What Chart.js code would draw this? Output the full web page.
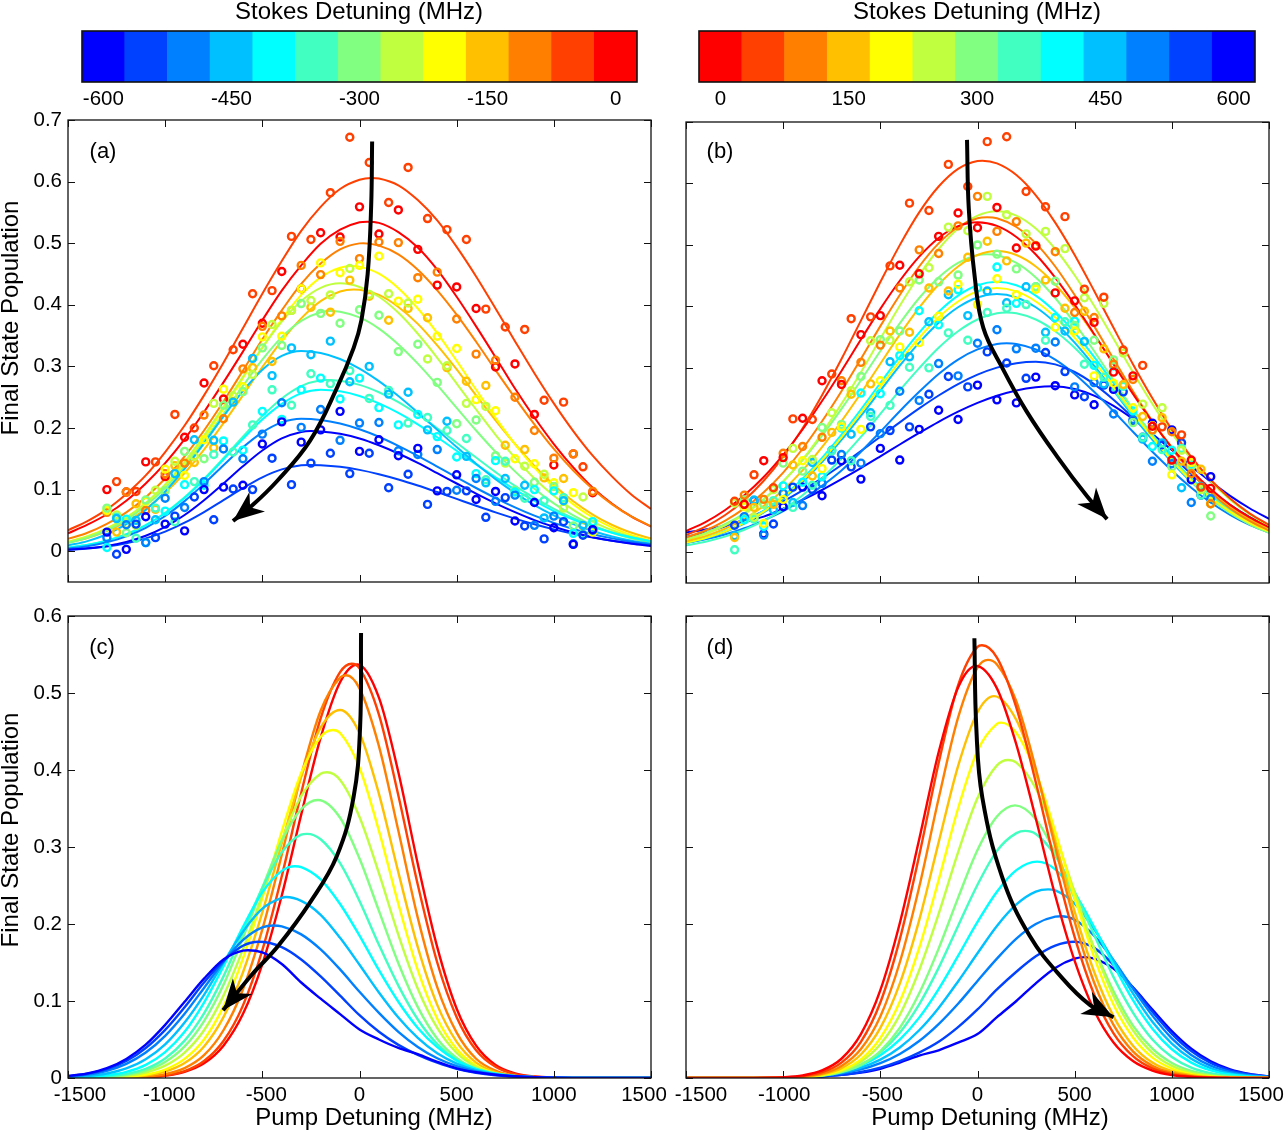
<!DOCTYPE html>
<html><head><meta charset="utf-8"><title>Final state population vs pump detuning</title>
<script src="https://cdn.jsdelivr.net/npm/chart.js@4.4.1/dist/chart.umd.min.js"></script>
<style>html,body{margin:0;padding:0;background:#fff}#fig{position:relative;width:1284px;height:1134px;overflow:hidden;background:#fff}#fig canvas{position:absolute}</style>
</head><body><div id="fig"></div>
<script>
// ---------------- DATA ----------------
const pumpGrid = [-1500,-1400,-1300,-1200,-1100,-1000,-900,-800,-700,-600,-500,-400,-300,-200,-100,0,100,200,300,400,500,600,700,800,900,1000,1100,1200,1300,1400,1500];
const stokesNeg = [-600,-550,-500,-450,-400,-350,-300,-250,-200,-150,-100,-50,0];
const stokesPos = [0,50,100,150,200,250,300,350,400,450,500,550,600];
const colorbarTicksNeg = [-600,-450,-300,-150,0];
const colorbarTicksPos = [0,150,300,450,600];
const pumpTicks = [-1500,-1000,-500,0,500,1000,1500];
const popTicksTop = [0,0.1,0.2,0.3,0.4,0.5,0.6,0.7];
const popTicksBottom = [0,0.1,0.2,0.3,0.4,0.5,0.6];

// measured pump detunings of the data points
const measGridA = [-1300,-1200,-1100,-1000,-900,-800,-700,-600,-500,-400,-300,-200,-100,0,100,200,300,400,500,600,700,800,900,1000,1100,1200];
const measGridB = [-1250,-1150,-1050,-950,-850,-750,-650,-550,-450,-350,-250,-150,-50,50,150,250,350,450,550,650,750,850,950,1050,1150];
const measGridC = [-1200,-1100,-1000,-900,-800,-700,-600,-500,-400,-300,-200,-100,0,100,200,300,400,500,600,700,800,900,1000,1100,1200];

// (a) measured populations, Stokes -600 ... 0
const ptsA_m600 = [.031,.003,.056,.044,.033,.100,.104,.107,.174,.210,.177,.197,.227,.162,.181,.155,.167,.098,.124,.084,.097,.049,.079,.038,.011,.035];
const ptsA_m550 = [-.005,.044,.022,.057,.088,.051,.101,.100,.151,.108,.143,.159,.126,.159,.103,.125,.076,.097,.098,.055,.087,.041,.020,.048,.026];
const ptsA_m500 = [.022,.043,.014,.086,.071,.113,.166,.150,.190,.241,.201,.230,.180,.208,.209,.163,.157,.165,.099,.118,.081,.091,.042,.057,.012,.034];
const ptsA_m450 = [.053,.050,.051,.126,.181,.180,.242,.313,.285,.330,.319,.341,.275,.300,.255,.258,.197,.211,.154,.111,.118,.107,.054,.082,.042];
const ptsA_m400 = [.006,.052,.014,.065,.108,.107,.179,.164,.227,.214,.262,.281,.247,.281,.233,.205,.222,.186,.153,.126,.147,.096,.100,.098,.029,.048];
const ptsA_m350 = [.055,.021,.070,.048,.113,.157,.161,.205,.262,.237,.288,.272,.293,.248,.261,.208,.217,.196,.183,.116,.146,.086,.082,.087,.028];
const ptsA_m300 = [.070,.030,.083,.098,.162,.150,.237,.259,.330,.334,.402,.386,.370,.392,.383,.324,.336,.274,.207,.213,.155,.099,.112,.105,.041,.044];
const ptsA_m250 = [.059,.042,.099,.146,.154,.240,.252,.287,.368,.391,.407,.416,.459,.417,.418,.403,.312,.301,.240,.235,.143,.138,.125,.070,.088];
const ptsA_m200 = [.066,.044,.081,.133,.123,.181,.263,.267,.348,.349,.426,.468,.452,.464,.479,.406,.409,.349,.329,.246,.228,.150,.142,.111,.095,.031];
const ptsA_m150 = [.031,.077,.068,.139,.144,.168,.243,.298,.308,.391,.396,.388,.440,.414,.375,.394,.379,.298,.276,.269,.172,.165,.119,.118,.041];
const ptsA_m100 = [.063,.096,.066,.126,.143,.221,.215,.296,.365,.382,.464,.449,.503,.475,.502,.501,.444,.453,.377,.320,.310,.250,.196,.151,.158,.097];
const ptsA_m50 = [.113,.097,.145,.222,.200,.301,.327,.418,.423,.511,.506,.582,.672,.631,.566,.623,.540,.522,.506,.393,.364,.360,.245,.242,.137];
const ptsA_0 = [.100,.096,.145,.121,.185,.273,.247,.336,.370,.454,.426,.517,.510,.559,.515,.554,.490,.432,.429,.394,.299,.304,.222,.140,.158,.095];

// (b) measured populations, Stokes 0 ... 600
const ptsB_0 = [.078,.149,.154,.218,.279,.273,.354,.385,.467,.453,.514,.552,.528,.561,.495,.498,.422,.409,.374,.293,.287,.205,.150,.150,.104];
const ptsB_50 = [.083,.126,.105,.217,.216,.290,.380,.383,.466,.568,.556,.631,.595,.668,.676,.587,.562,.546,.428,.415,.329,.304,.204,.191,.106];
const ptsB_100 = [.093,.086,.161,.172,.187,.279,.309,.337,.430,.492,.486,.531,.579,.522,.538,.499,.489,.390,.382,.306,.281,.199,.196,.128,.079];
const ptsB_150 = [.024,.073,.078,.142,.124,.195,.257,.274,.360,.358,.430,.425,.480,.506,.474,.503,.443,.397,.392,.331,.273,.221,.219,.148,.135];
const ptsB_200 = [.074,.047,.086,.149,.136,.204,.200,.279,.334,.341,.384,.436,.403,.445,.419,.428,.366,.360,.287,.275,.235,.206,.126,.146,.079];
const ptsB_250 = [.080,.057,.102,.169,.151,.227,.263,.344,.345,.440,.463,.529,.523,.579,.549,.518,.522,.494,.414,.405,.324,.241,.235,.166,.102];
const ptsB_300 = [.085,.078,.145,.132,.203,.208,.286,.346,.360,.443,.440,.451,.500,.485,.461,.432,.441,.369,.345,.313,.211,.198,.139,.140,.059];
const ptsB_350 = [.004,.054,.084,.073,.109,.165,.149,.221,.239,.301,.300,.357,.345,.390,.397,.403,.345,.375,.306,.285,.270,.187,.167,.169,.093];
const ptsB_400 = [.053,.042,.108,.114,.123,.202,.259,.258,.320,.393,.370,.427,.430,.464,.405,.432,.382,.376,.304,.303,.230,.172,.166,.142,.079];
const ptsB_450 = [.027,.085,.069,.081,.146,.166,.192,.227,.310,.318,.375,.419,.385,.425,.406,.432,.358,.360,.343,.274,.272,.184,.178,.105,.107];
const ptsB_500 = [.058,.028,.096,.076,.112,.159,.145,.193,.262,.247,.307,.287,.340,.362,.331,.332,.342,.269,.276,.225,.216,.148,.144,.081,.087];
const ptsB_550 = [.044,.084,.046,.106,.102,.150,.139,.204,.198,.204,.257,.286,.269,.326,.308,.283,.325,.294,.253,.272,.261,.187,.175,.178,.093];
const ptsB_600 = [.075,.030,.074,.106,.092,.149,.119,.169,.150,.200,.231,.216,.272,.248,.243,.285,.271,.256,.240,.265,.213,.210,.199,.118,.123];

// (a) fitted curves, Stokes -600 ... 0 (values on pumpGrid)
const fitA_m600 = [.0023,.0046,.0086,.0151,.0251,.0396,.0588,.0828,.1099,.1378,.1634,.183,.1936,.1945,.1906,.183,.172,.1586,.1433,.1267,.1099,.0933,.0776,.0634,.0505,.0396,.0304,.0228,.0168,.0121,.0086];
const fitA_m550 = [.0022,.0042,.0075,.0128,.0208,.0318,.0463,.0636,.083,.1024,.120,.1328,.1394,.1396,.137,.132,.125,.1165,.1067,.096,.0849,.0738,.063,.0529,.0437,.0354,.0282,.0221,.017,.0129,.0096];
const fitA_m500 = [.0044,.0082,.0144,.0241,.038,.0571,.0813,.1093,.1395,.1686,.193,.2092,.215,.2131,.2073,.198,.1858,.171,.1548,.1374,.1197,.1026,.0863,.0712,.0577,.046,.036,.0276,.0208,.0154,.0112];
const fitA_m450 = [.0093,.0164,.0275,.0439,.067,.0969,.1336,.175,.219,.260,.2945,.317,.325,.3217,.312,.2964,.276,.252,.225,.197,.169,.142,.117,.0946,.0748,.058,.0439,.0328,.0239,.017,.0119];
const fitA_m400 = [.0057,.01,.017,.0272,.0419,.0616,.0865,.1158,.1488,.1824,.2138,.2392,.2562,.262,.2595,.252,.240,.2245,.206,.185,.163,.141,.120,.0998,.0815,.0652,.0513,.0396,.030,.0222,.0162];
const fitA_m350 = [.006,.0104,.0174,.0278,.0425,.0624,.0874,.1175,.151,.186,.2195,.248,.268,.2775,.2766,.270,.258,.242,.222,.1996,.176,.152,.1284,.106,.0865,.0688,.0536,.041,.0306,.0225,.0161];
const fitA_m300 = [.0134,.0216,.0338,.0508,.0737,.1024,.1377,.1786,.2227,.2683,.311,.3475,.374,.388,.3888,.3795,.3614,.3357,.3046,.2695,.2327,.196,.1613,.1296,.1014,.0776,.058,.042,.030,.0207,.014];
const fitA_m250 = [.0151,.024,.0368,.0546,.0783,.1085,.1453,.188,.2346,.283,.3306,.3728,.4063,.4276,.435,.429,.413,.387,.353,.314,.272,.230,.189,.152,.118,.090,.067,.048,.034,.0233,.0157];
const fitA_m200 = [.0155,.0243,.0369,.054,.077,.1065,.142,.184,.231,.281,.3305,.3764,.416,.4445,.4604,.462,.4505,.427,.394,.354,.309,.262,.2167,.1737,.1357,.1033,.076,.0547,.0382,.026,.017];
const fitA_m150 = [.0136,.0213,.0325,.048,.0686,.095,.127,.165,.208,.253,.299,.3416,.378,.406,.4217,.4245,.416,.3965,.369,.334,.295,.253,.2125,.174,.1385,.1075,.081,.0595,.0425,.030,.0204];
const fitA_m100 = [.020,.030,.0445,.063,.0875,.118,.154,.196,.243,.293,.344,.391,.434,.467,.490,.4997,.496,.482,.457,.4235,.384,.340,.294,.249,.206,.166,.131,.101,.076,.056,.0405];
const fitA_m50 = [.034,.049,.068,.093,.123,.161,.204,.253,.306,.362,.418,.471,.520,.559,.588,.603,.605,.594,.570,.537,.494,.446,.394,.341,.289,.240,.195,.155,.121,.0916,.0685];
const fitA_0 = [.029,.043,.060,.082,.110,.143,.182,.226,.274,.324,.375,.423,.464,.499,.522,.534,.533,.518,.493,.457,.413,.365,.315,.264,.217,.174,.136,.103,.077,.056,.040];
const peakA_x = [-250,-260,-300,-300,-200,-170,-150,-100,-40,-30,20,60,40];
const peakA_y = [.195,.14,.215,.325,.262,.278,.39,.435,.463,.425,.50,.606,.535];

// (b) fitted curves, Stokes 0 ... 600
const fitB_0 = [.0345,.049,.0683,.0926,.1224,.1584,.1997,.246,.295,.346,.396,.4417,.481,.5114,.5305,.537,.531,.513,.4845,.4468,.4028,.3552,.306,.2576,.2119,.1704,.1337,.1028,.0771,.0567,.0405];
const fitB_50 = [.028,.0416,.0602,.0847,.1163,.1552,.2017,.2555,.3143,.3769,.4396,.4997,.553,.595,.6237,.6365,.6326,.6137,.5808,.5363,.4837,.4255,.3652,.306,.2505,.1996,.1552,.118,.0874,.0634,.0447];
const fitB_100 = [.024,.0354,.0512,.0714,.0976,.1297,.1684,.2131,.2621,.3145,.3679,.4186,.4649,.5025,.5292,.5434,.5434,.5292,.5025,.4649,.4186,.3679,.3145,.2621,.2131,.1684,.1297,.0976,.0714,.0512,.0354];
const fitB_150 = [.0176,.0263,.0382,.0544,.0755,.1014,.1333,.171,.2132,.2587,.3067,.354,.3979,.4356,.465,.4836,.49,.4836,.465,.4356,.3979,.354,.3067,.2587,.2132,.171,.1333,.1014,.0755,.0544,.0382];
const fitB_200 = [.0155,.023,.0335,.0477,.0662,.089,.117,.150,.187,.227,.269,.3107,.349,.3823,.408,.4244,.43,.4244,.408,.3823,.349,.3107,.269,.227,.187,.150,.117,.089,.0662,.0477,.0335];
const fitB_250 = [.020,.0297,.0433,.0616,.0855,.1149,.151,.1937,.2414,.293,.3474,.401,.4507,.4934,.5267,.5478,.555,.5478,.5267,.4934,.4507,.401,.3474,.293,.2414,.1937,.151,.1149,.0855,.0616,.0433];
const fitB_300 = [.0213,.0315,.0456,.0635,.0868,.1154,.1499,.1896,.2333,.2798,.3274,.3725,.4137,.4472,.4709,.4835,.4835,.4709,.4472,.4137,.3725,.3274,.2798,.2333,.1896,.1499,.1154,.0868,.0635,.0456,.0315];
const fitB_350 = [.0113,.0172,.0254,.0367,.0511,.0698,.0928,.1205,.1525,.1876,.225,.2633,.2995,.3327,.3596,.3787,.3888,.3888,.3787,.3596,.3327,.2995,.2633,.225,.1876,.1525,.1205,.0928,.0698,.0511,.0367];
const fitB_400 = [.0158,.0236,.0343,.0488,.0678,.0911,.1197,.1536,.1914,.2323,.2754,.3179,.3573,.3912,.4176,.4343,.44,.4343,.4176,.3912,.3573,.3179,.2754,.2323,.1914,.1536,.1197,.0911,.0678,.0488,.0343];
const fitB_450 = [.0151,.0225,.0328,.0466,.0647,.0869,.1142,.1466,.1827,.2218,.2629,.3035,.341,.3734,.3986,.4145,.42,.4145,.3986,.3734,.341,.3035,.2629,.2218,.1827,.1466,.1142,.0869,.0647,.0466,.0328];
const fitB_500 = [.015,.021,.029,.039,.052,.067,.086,.108,.133,.1635,.196,.2295,.261,.29,.3135,.330,.339,.339,.330,.3135,.29,.261,.2295,.196,.1635,.133,.105,.0809,.0609,.0445,.032];
const fitB_550 = [.0247,.0324,.0419,.0534,.067,.0828,.1008,.1205,.142,.1646,.188,.2114,.234,.255,.2736,.289,.3004,.3076,.31,.3057,.2933,.2736,.2483,.2191,.188,.1569,.1274,.1008,.0772,.0576,.0419];
const fitB_600 = [.032,.037,.043,.050,.058,.0709,.0853,.1013,.1188,.137,.156,.1753,.1941,.2122,.2287,.243,.2547,.2633,.2685,.27,.2657,.2549,.2381,.2168,.1925,.1663,.140,.115,.0918,.0716,.0543];
const peakB_x = [0,25,50,100,100,100,50,150,100,100,150,300,390];
const peakB_y = [.537,.637,.545,.49,.43,.555,.485,.39,.44,.42,.34,.31,.27];

// (c) simulated curves, Stokes -600 ... 0
const simC_m600 = [.0027,.0061,.0128,.0248,.0433,.069,.099,.129,.154,.1655,.163,.148,.124,.103,.083,.063,.050,.039,.031,.021,.0126,.0075,.0042,.0022,.001,.0004,.0001,0,0,0,0];
const simC_m550 = [.0024,.0055,.0115,.0221,.039,.0626,.092,.124,.152,.1717,.1765,.170,.154,.132,.107,.0815,.060,.043,.030,.020,.012,.0068,.0036,.0018,.0008,.0003,.0001,0,0,0,0];
const simC_m500 = [.0019,.0044,.0093,.0183,.033,.0547,.0834,.117,.151,.179,.1955,.197,.1865,.167,.141,.112,.0846,.060,.0404,.0256,.0154,.0087,.0047,.0023,.0011,.0005,.0002,.0001,0,0,0];
const simC_m450 = [.001,.0025,.0058,.0124,.0243,.0437,.072,.108,.150,.190,.220,.234,.230,.212,.182,.147,.111,.0785,.052,.032,.0187,.0101,.0051,.0024,.0011,.0005,.0002,.0001,0,0,0];
const simC_m400 = [.0005,.0013,.0034,.0079,.0171,.0337,.060,.098,.145,.196,.241,.269,.274,.258,.226,.185,.140,.099,.065,.040,.0226,.0119,.0059,.0027,.0012,.0005,.0002,.0001,0,0,0];
const simC_m350 = [.0003,.0008,.0021,.0053,.012,.0254,.0485,.084,.132,.189,.247,.293,.316,.310,.279,.230,.173,.120,.076,.044,.0233,.0113,.005,.0021,.0008,.0003,.0001,0,0,0,0];
const simC_m300 = [0,.0005,.0016,.004,.0096,.0208,.041,.074,.121,.182,.247,.308,.349,.360,.338,.285,.217,.149,.092,.051,.026,.0117,.0048,.0018,.0006,.0002,0,0,0,0,0];
const simC_m250 = [0,.0003,.001,.0029,.0071,.016,.033,.062,.107,.167,.238,.309,.366,.395,.387,.339,.266,.186,.116,.065,.0325,.0145,.0058,.0021,.0007,.0002,0,0,0,0,0];
const simC_m200 = [0,0,.0005,.0016,.0045,.011,.0248,.050,.093,.155,.234,.320,.396,.443,.448,.403,.321,.226,.140,.077,.0375,.0162,.0061,.0021,.0006,.0002,0,0,0,0,0];
const simC_m150 = [0,0,.0003,.0011,.0032,.0083,.0194,.041,.079,.137,.215,.305,.391,.455,.478,.448,.369,.267,.170,.095,.047,.020,.0077,.0025,.0008,.0002,0,0,0,0,0];
const simC_m100 = [0,0,0,.0005,.0017,.005,.0128,.0296,.062,.115,.193,.290,.393,.477,.520,.506,.431,.321,.208,.118,.059,.025,.0096,.003,.001,0,0,0,0,0,0];
const simC_m50 = [0,0,0,.0003,.001,.0032,.0088,.022,.048,.094,.166,.262,.370,.467,.527,.532,.472,.367,.251,.150,.079,.036,.0145,.005,.0016,.0004,0,0,0,0,0];
const simC_0 = [0,0,0,.0002,.0009,.003,.008,.019,.042,.083,.148,.237,.342,.442,.514,.536,.494,.397,.278,.170,.090,.042,.017,.006,.002,.0005,0,0,0,0,0];
const peakC_x = [-574,-517,-445,-378,-332,-270,-214,-167,-136,-100,-69,-40,-10];
const peakC_y = [.166,.177,.198,.235,.275,.317,.361,.397,.452,.478,.523,.538,.537];

// (d) simulated curves, Stokes 0 ... 600
const simD_0 = [0,0,0,0,.0003,.001,.0034,.0098,.025,.057,.114,.201,.310,.423,.507,.534,.506,.433,.337,.237,.152,.088,.046,.022,.0096,.0037,.0013,.0004,.0001,0,0];
const simD_50 = [0,0,0,0,.0002,.0007,.0025,.0075,.020,.047,.098,.180,.289,.409,.510,.560,.546,.481,.384,.278,.183,.1085,.058,.0284,.0125,.005,.0018,.0006,.0002,0,0];
const simD_100 = [0,0,0,0,.0001,.0005,.0018,.0057,.0157,.0377,.080,.150,.248,.363,.468,.533,.537,.489,.402,.300,.203,.124,.069,.0346,.0158,.0065,.0024,.0008,.0002,0,0];
const simD_150 = [0,0,0,0,.0001,.0004,.0015,.0047,.0127,.0305,.065,.1225,.205,.306,.405,.475,.4955,.465,.397,.3075,.216,.138,.080,.042,.020,.0088,.0035,.0012,.0004,.0001,0];
const simD_200 = [0,0,0,0,.0001,.0004,.0013,.0038,.0101,.0242,.052,.099,.169,.257,.350,.425,.460,.448,.397,.320,.2345,.157,.095,.0527,.0265,.0122,.0051,.0019,.0007,.0002,0];
const simD_250 = [0,0,0,0,.0001,.0004,.0012,.0035,.009,.021,.0437,.082,.140,.213,.293,.3635,.406,.4095,.376,.315,.241,.168,.1066,.062,.0327,.0157,.0069,.0028,.001,.0003,.0001];
const simD_300 = [0,0,0,0,.0001,.0004,.0011,.003,.0076,.017,.035,.065,.110,.168,.234,.296,.3395,.354,.336,.292,.2325,.169,.1127,.068,.038,.0195,.0091,.0039,.0015,.0005,.0002];
const simD_350 = [0,0,0,.0001,.0002,.0006,.0015,.0037,.0084,.0174,.0333,.0588,.0957,.143,.1975,.251,.295,.318,.317,.289,.242,.186,.131,.0849,.050,.0273,.0135,.0062,.0026,.001,.0004];
const simD_400 = [0,0,0,.0001,.0003,.0008,.0018,.004,.0084,.0162,.0295,.0498,.0784,.1155,.1585,.2027,.242,.270,.281,.271,.240,.196,.147,.101,.064,.0373,.020,.0099,.0045,.0019,.0007];
const simD_450 = [0,0,0,.0001,.0003,.0007,.0016,.0035,.0072,.0135,.0238,.0397,.062,.091,.1254,.162,.1975,.2254,.242,.2436,.2265,.1935,.152,.110,.073,.0446,.025,.0129,.0061,.0027,.0011];
const simD_500 = [0,0,0,.0001,.0003,.0007,.0015,.0031,.0061,.0111,.0192,.0312,.048,.070,.0964,.126,.155,.181,.200,.2095,.2056,.185,.153,.116,.081,.0515,.030,.0161,.0079,.0036,.0015];
const simD_550 = [0,0,0,0,.0001,.0004,.001,.0021,.0042,.0078,.0135,.022,.033,.047,.066,.089,.115,.138,.158,.172,.1769,.169,.147,.1175,.086,.0574,.035,.0195,.010,.0047,.002];
const simD_600 = [0,0,0,0,.0001,.0004,.001,.002,.004,.007,.012,.020,.029,.036,.046,.057,.079,.100,.123,.143,.155,.155,.142,.1176,.0889,.061,.038,.0216,.0112,.0053,.0022];
const peakD_x = [-8,23,54,85,121,157,193,245,307,363,430,497,553];
const peakD_y = [.535,.562,.543,.496,.4615,.413,.354,.321,.281,.245,.210,.177,.157];

// trend arrows (pump detuning, population)
const arrowA_x = [65,60,42,10,-30,-116,-255,-424,-560,-651];
const arrowA_y = [.665,.56,.45,.375,.33,.265,.179,.114,.072,.049];
const arrowB_x = [-54,-45,-15,30,131,255,409,564,667];
const arrowB_y = [.671,.56,.45,.365,.298,.228,.156,.091,.054];
const arrowC_x = [8,3,-31,-117,-249,-420,-551,-702];
const arrowC_y = [.578,.455,.364,.288,.230,.171,.135,.088];
const arrowD_x = [-16,-6,25,127,270,435,578,700];
const arrowD_y = [.571,.454,.364,.261,.184,.130,.095,.079];

// ---------------- STYLE ----------------
const jetNeg = ['#0000ff','#0040ff','#0080ff','#00c0ff','#00ffff','#40ffc0','#80ff80','#c0ff40','#ffff00','#ffc000','#ff8000','#ff4000','#ff0000'];
const jetPos = jetNeg.slice().reverse();
const FONT = "'Liberation Sans', Arial, Helvetica, sans-serif";
Chart.defaults.font.family = FONT;
Chart.defaults.color = '#000';

function curvePts(ys, px, py) {
  const pts = [];
  pumpGrid.forEach((x, i) => { if (Math.abs(x - px) >= 20) pts.push({x: x, y: ys[i]}); });
  pts.push({x: px, y: py});
  pts.sort((a, b) => a.x - b.x);
  return pts;
}
function zipPts(xs, ys) { return ys.map((y, i) => ({x: xs[i], y: y})); }

const framePlugin = {
  id: 'frame',
  beforeDraw(chart, args, o) {
    if (o && o.xshift && chart.scales.x) {
      const items = chart.scales.x.getLabelItems();
      if (items && !items._shifted) {
        items.forEach((it, i) => { if (o.xshift[i]) it.options.translation[0] += o.xshift[i]; });
        items._shifted = true;
      }
    }
  },
  afterDraw(chart, args, o) {
    if (!o) return;
    const ctx = chart.ctx, a = chart.chartArea;
    ctx.save();
    if (o.arrow !== undefined) {
      const pts = chart.getDatasetMeta(o.arrow).data;
      const p1 = pts[pts.length - 2], p2 = pts[pts.length - 1];
      let dx = p2.x - p1.x, dy = p2.y - p1.y; const L = Math.hypot(dx, dy); dx /= L; dy /= L;
      const nx = -dy, ny = dx, HL = 31, HW = 12.5, NOTCH = 9;
      ctx.fillStyle = '#000';
      ctx.beginPath();
      ctx.moveTo(p2.x, p2.y);
      ctx.lineTo(p2.x - HL * dx + HW * nx, p2.y - HL * dy + HW * ny);
      ctx.lineTo(p2.x - (HL - NOTCH) * dx, p2.y - (HL - NOTCH) * dy);
      ctx.lineTo(p2.x - HL * dx - HW * nx, p2.y - HL * dy - HW * ny);
      ctx.closePath(); ctx.fill();
    }
    if (o.box) {
      ctx.strokeStyle = '#111'; ctx.lineWidth = o.box;
      ctx.strokeRect(a.left, a.top, a.right - a.left, a.bottom - a.top);
    }
    if (o.xt) {
      ctx.strokeStyle = '#111'; ctx.lineWidth = 1;
      o.xt.forEach(v => { const x = Math.round(chart.scales.x.getPixelForValue(v)) + 0.5;
        ctx.beginPath(); ctx.moveTo(x, a.bottom); ctx.lineTo(x, a.bottom - 7); ctx.moveTo(x, a.top); ctx.lineTo(x, a.top + 7); ctx.stroke(); });
      o.yt.forEach(v => { const y = Math.round(chart.scales.y.getPixelForValue(v)) + 0.5;
        ctx.beginPath(); ctx.moveTo(a.left, y); ctx.lineTo(a.left + 7, y); ctx.moveTo(a.right, y); ctx.lineTo(a.right - 7, y); ctx.stroke(); });
    }
    if (o.texts) {
      ctx.fillStyle = '#000'; ctx.textAlign = 'center'; ctx.textBaseline = 'middle';
      o.texts.forEach(t => {
        ctx.font = t.size + 'px ' + FONT;
        const x = t.x - o.off[0], y = t.y - o.off[1];
        if (t.rot) { ctx.save(); ctx.translate(x, y); ctx.rotate(-Math.PI / 2); ctx.fillText(t.s, 0, 0); ctx.restore(); }
        else ctx.fillText(t.s, x, y);
      });
    }
    ctx.restore();
  }
};
Chart.register(framePlugin);

const fig = document.getElementById('fig');
function mkCanvas(left, top, w, h) {
  const c = document.createElement('canvas');
  c.width = w; c.height = h;
  c.style.left = left + 'px'; c.style.top = top + 'px'; c.style.width = w + 'px'; c.style.height = h + 'px';
  fig.appendChild(c);
  return c;
}

function makeColorbar(cfg) {
  const cv = mkCanvas(cfg.left, 0, cfg.w, 112);
  new Chart(cv, {
    type: 'bar',
    data: { labels: cfg.stokes.map(String), datasets: [{ data: cfg.stokes.map(() => 1), backgroundColor: cfg.colors, borderWidth: 0, categoryPercentage: 1, barPercentage: 1 }] },
    options: {
      responsive: false, animation: false, events: [],
      layout: { padding: { left: cfg.padL, right: cfg.padR, top: 31, bottom: 0 } },
      plugins: { legend: { display: false }, tooltip: { enabled: false },
        frame: { box: 1.6, off: [cfg.left, 0], texts: [{ s: 'Stokes Detuning (MHz)', x: cfg.titleX, y: 12.5, size: 24 }] } },
      scales: {
        x: { grid: { display: false, drawTicks: false }, border: { display: false },
          ticks: { autoSkip: false, maxRotation: 0, padding: 5, color: '#000', font: { size: 20.5 },
            callback: (v, i) => cfg.ticks.includes(cfg.stokes[i]) ? String(cfg.stokes[i]) : '' },
          afterFit: s => { s.height = 30; s.paddingLeft = 0; s.paddingRight = 0; } },
        y: { display: false, min: 0, max: 1 }
      }
    }
  });
}

function makePanel(cfg) {
  const cv = mkCanvas(cfg.left, cfg.top, cfg.w, cfg.h);
  const datasets = [];
  datasets.push({ data: cfg.arrow, showLine: true, borderColor: '#000', borderWidth: 4, pointRadius: 0, tension: 0.4, borderCapStyle: 'butt' });
  (cfg.points || []).forEach((p, i) => datasets.push({ data: p, showLine: false, pointStyle: 'circle', pointRadius: 3.5, pointBorderWidth: 2.4, pointBackgroundColor: 'rgba(0,0,0,0)', pointBorderColor: cfg.colors[i], borderColor: cfg.colors[i] }));
  cfg.curves.forEach((c, i) => datasets.push({ data: c, showLine: true, borderColor: cfg.colors[i], borderWidth: cfg.lw, pointRadius: 0, cubicInterpolationMode: 'monotone', fill: false }));
  new Chart(cv, {
    type: 'scatter',
    data: { datasets },
    options: {
      responsive: false, animation: false, events: [],
      layout: { padding: { left: 0, top: cfg.padT, right: cfg.padR, bottom: 0 } },
      plugins: { legend: { display: false }, tooltip: { enabled: false },
        frame: { arrow: 0, box: 1.3, xt: pumpTicks, yt: cfg.yticks, off: [cfg.left, cfg.top], texts: cfg.texts, xshift: cfg.xshift } },
      scales: {
        x: { type: 'linear', min: -1500, max: 1500,
          afterBuildTicks: s => { s.ticks = pumpTicks.map(v => ({ value: v })); },
          ticks: { display: cfg.xlab, padding: 5, color: '#000', font: { size: 20.5 }, maxRotation: 0, autoSkip: false, callback: v => String(v) },
          grid: { display: false, drawTicks: false }, border: { display: false },
          afterFit: s => { s.height = cfg.padB; s.paddingLeft = 0; s.paddingRight = 0; } },
        y: { type: 'linear', min: cfg.ymin, max: cfg.ymax,
          afterBuildTicks: s => { s.ticks = cfg.yticks.map(v => ({ value: v })); },
          ticks: { display: cfg.ylab, padding: 6, color: '#000', font: { size: 20.5 }, callback: v => String(v) },
          grid: { display: false, drawTicks: false }, border: { display: false },
          afterFit: s => { s.width = cfg.padL; s.paddingTop = 0; s.paddingBottom = 0; } }
      }
    }
  });
}

// colorbars
makeColorbar({ left: 0, w: 660, padL: 82, padR: 23, stokes: stokesNeg, colors: jetNeg, ticks: colorbarTicksNeg, titleX: 359 });
makeColorbar({ left: 660, w: 624, padL: 39, padR: 29, stokes: stokesPos, colors: jetPos, ticks: colorbarTicksPos, titleX: 977 });

const fitsA = [fitA_m600, fitA_m550, fitA_m500, fitA_m450, fitA_m400, fitA_m350, fitA_m300, fitA_m250, fitA_m200, fitA_m150, fitA_m100, fitA_m50, fitA_0];
const fitsB = [fitB_0, fitB_50, fitB_100, fitB_150, fitB_200, fitB_250, fitB_300, fitB_350, fitB_400, fitB_450, fitB_500, fitB_550, fitB_600];
const simsC = [simC_m600, simC_m550, simC_m500, simC_m450, simC_m400, simC_m350, simC_m300, simC_m250, simC_m200, simC_m150, simC_m100, simC_m50, simC_0];
const simsD = [simD_0, simD_50, simD_100, simD_150, simD_200, simD_250, simD_300, simD_350, simD_400, simD_450, simD_500, simD_550, simD_600];
const measA = [ptsA_m600, ptsA_m550, ptsA_m500, ptsA_m450, ptsA_m400, ptsA_m350, ptsA_m300, ptsA_m250, ptsA_m200, ptsA_m150, ptsA_m100, ptsA_m50, ptsA_0];
const measB = [ptsB_0, ptsB_50, ptsB_100, ptsB_150, ptsB_200, ptsB_250, ptsB_300, ptsB_350, ptsB_400, ptsB_450, ptsB_500, ptsB_550, ptsB_600];

makePanel({ left: 0, top: 100, w: 660, h: 490, padL: 68, padT: 20, padR: 9, padB: 8, ymin: -0.05, ymax: 0.7, yticks: popTicksTop, xlab: false, ylab: true, lw: 2,
  colors: jetNeg, curves: fitsA.map((f, i) => curvePts(f, peakA_x[i], peakA_y[i])), arrow: zipPts(arrowA_x, arrowA_y),
  points: measA.map((p, i) => zipPts(i % 2 === 0 ? measGridA : measGridB, p)),
  texts: [{ s: '(a)', x: 103, y: 152, size: 22 }, { s: 'Final State Population', x: 11, y: 318, size: 24, rot: true }] });
makePanel({ left: 660, top: 100, w: 624, h: 490, padL: 26, padT: 22, padR: 15, padB: 7, ymin: -0.05, ymax: 0.7, yticks: popTicksTop, xlab: false, ylab: false, lw: 2,
  colors: jetPos, curves: fitsB.map((f, i) => curvePts(f, peakB_x[i], peakB_y[i])), arrow: zipPts(arrowB_x, arrowB_y),
  points: measB.map((p, i) => zipPts(i % 2 === 0 ? measGridC : measGridB, p)),
  texts: [{ s: '(b)', x: 720, y: 152, size: 22 }] });
makePanel({ left: 0, top: 590, w: 700, h: 544, padL: 68, padT: 26, padR: 49, padB: 56, ymin: 0, ymax: 0.6, yticks: popTicksBottom, xlab: true, ylab: true, lw: 2.4,
  colors: jetNeg, curves: simsC.map((f, i) => curvePts(f, peakC_x[i], peakC_y[i])), arrow: zipPts(arrowC_x, arrowC_y), xshift: [12, 4, 4, 0, 0, 0, -7],
  texts: [{ s: '(c)', x: 102, y: 648, size: 22 }, { s: 'Final State Population', x: 11, y: 830, size: 24, rot: true }, { s: 'Pump Detuning (MHz)', x: 374, y: 1118, size: 24 }] });
makePanel({ left: 660, top: 590, w: 624, h: 544, padL: 26, padT: 26, padR: 15, padB: 56, ymin: 0, ymax: 0.6, yticks: popTicksBottom, xlab: true, ylab: false, lw: 2.4,
  colors: jetPos, curves: simsD.map((f, i) => curvePts(f, peakD_x[i], peakD_y[i])), arrow: zipPts(arrowD_x, arrowD_y), xshift: [15, 1, 2, 0, 0, 0, -8],
  texts: [{ s: '(d)', x: 720, y: 648, size: 22 }, { s: 'Pump Detuning (MHz)', x: 990, y: 1118, size: 24 }] });
</script></body></html>
